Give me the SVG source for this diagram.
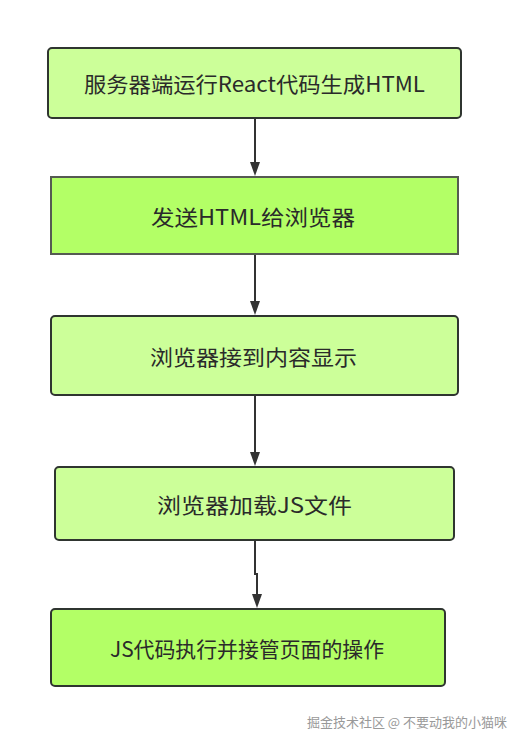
<svg xmlns="http://www.w3.org/2000/svg" width="523" height="748" viewBox="0 0 523 748">
<style>
.light{fill:#ccff99;stroke:#2f3530;stroke-width:2}
.dark{fill:#b3ff66;stroke:#555a52;stroke-width:2}
.dark2{fill:#b3ff66;stroke:#2f3530;stroke-width:2}
.t{font-family:"Noto Sans CJK SC","Noto Sans",sans-serif;font-size:21px;fill:#2a2a2a;text-anchor:middle;dominant-baseline:central}
.c{fill:none;stroke:#333;stroke-width:2}
.wm{font-family:"Noto Sans CJK SC","Noto Sans",sans-serif;font-size:13px;fill:#999;text-anchor:end}
</style>
<rect width="523" height="748" fill="#ffffff"/>
<g id="connectors">
<path class="c" d="M255,119 V162"/><path d="M250,162 H260 L255,176 Z" fill="#333"/>
<path class="c" d="M255,255 V301"/><path d="M250,301 H260 L255,315 Z" fill="#333"/>
<path class="c" d="M255,396 V452"/><path d="M250,452 H260 L255,466 Z" fill="#333"/>
<path class="c" d="M255,541 V574 H257 V594"/><path d="M252,594 H262 L257,608 Z" fill="#333"/>
</g>
<g id="n1"><rect class="light" x="48" y="48" width="413" height="70" rx="4"/><text class="t" x="254.5" y="83" textLength="341" lengthAdjust="spacingAndGlyphs">服务器端运行React代码生成HTML</text></g>
<g id="n2"><rect class="dark" x="51" y="177" width="407" height="77"/><text class="t" x="253" y="215.5" textLength="204" lengthAdjust="spacingAndGlyphs">发送HTML给浏览器</text></g>
<g id="n3"><rect class="light" x="51" y="316" width="407" height="79" rx="4"/><text class="t" x="253.5" y="355.5" textLength="207" lengthAdjust="spacingAndGlyphs">浏览器接到内容显示</text></g>
<g id="n4"><rect class="light" x="55" y="467" width="399" height="73" rx="4"/><text class="t" x="254.5" y="503.5" textLength="195" lengthAdjust="spacingAndGlyphs">浏览器加载JS文件</text></g>
<g id="n5"><rect class="dark2" x="51" y="609" width="394" height="77" rx="4"/><text class="t" x="247" y="647.5" textLength="274" lengthAdjust="spacingAndGlyphs">JS代码执行并接管页面的操作</text></g>
<text class="wm" x="507" y="727">掘金技术社区 @ 不要动我的小猫咪</text>
</svg>
